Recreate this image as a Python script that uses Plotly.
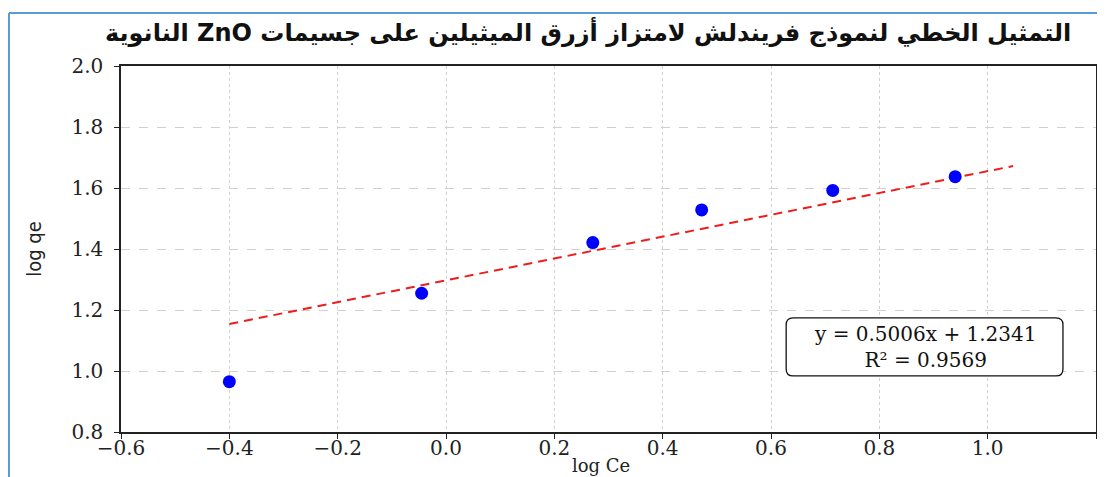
import plotly.graph_objects as go

# Data
log_ce = [-0.40, -0.045, 0.271, 0.472, 0.714, 0.940]
log_qe = [0.965, 1.255, 1.421, 1.528, 1.592, 1.637]
fit_x = [-0.40, 1.047]
fit_y = [1.154, 1.672]
x_ticks = [-0.6, -0.4, -0.2, 0.0, 0.2, 0.4, 0.6, 0.8, 1.0, 1.2]
y_ticks = [0.8, 1.0, 1.2, 1.4, 1.6, 1.8, 2.0]
title_text = "التمثيل الخطي لنموذج فريندلش لامتزاز أزرق الميثيلين على جسيمات ZnO النانوية"
eq_text = "y = 0.5006x + 1.2341<br>R² = 0.9569"
x_title = "log Ce"
y_title = "log qe"

OFF = 8  # page body margin
W, H = 1105 - OFF, 477 - OFF
L, R, T, B = 121 - OFF, 9, 66 - OFF, 45
xr = [-0.6, 1.2]
yr = [0.8, 2.0]
pw, ph = W - L - R, H - T - B
sx = (xr[1] - xr[0]) / pw
sy = (yr[1] - yr[0]) / ph

fig = go.Figure()
fig.add_trace(go.Scatter(x=fit_x, y=fit_y, mode="lines",
                         line=dict(color="#ee1c1c", width=2, dash="9px,6px"),
                         showlegend=False, hoverinfo="skip"))
fig.add_trace(go.Scatter(x=log_ce, y=log_qe, mode="markers",
                         marker=dict(color="#0000ff", size=13, line=dict(width=0)),
                         showlegend=False))

# rounded box for equation (data coords)
bx0, bx1, by0, by1 = 0.628, 1.139, 0.984, 1.174
r = 7
rx, ry = r * sx, r * sy
path = (f"M {bx0+rx},{by0} L {bx1-rx},{by0} Q {bx1},{by0} {bx1},{by0+ry} "
        f"L {bx1},{by1-ry} Q {bx1},{by1} {bx1-rx},{by1} "
        f"L {bx0+rx},{by1} Q {bx0},{by1} {bx0},{by1-ry} "
        f"L {bx0},{by0+ry} Q {bx0},{by0} {bx0+rx},{by0} Z")
fig.add_shape(type="path", path=path, xref="x", yref="y",
              line=dict(color="#111111", width=1.3), fillcolor="white", layer="above")
fig.add_annotation(x=(bx0 + bx1) / 2, y=(by0 + by1) / 2, xref="x", yref="y",
                   text=eq_text, showarrow=False, xanchor="center", yanchor="middle",
                   font=dict(family="DejaVu Serif", size=20, color="#111111"),
                   align="center")

# blue frame (left and top edges)
fx = (9 - OFF - L) / pw
fy = 1 + (T - (13 - OFF)) / ph
fig.add_shape(type="line", xref="paper", yref="paper", x0=fx, x1=fx, y0=-1, y1=fy,
              line=dict(color="#5b9bd5", width=2))
fig.add_shape(type="line", xref="paper", yref="paper", x0=fx, x1=2, y0=fy, y1=fy,
              line=dict(color="#5b9bd5", width=2))

fig.add_annotation(x=(588 - OFF - L) / pw, y=1 + (T - (32 - OFF)) / ph,
                   xref="paper", yref="paper", xanchor="center", yanchor="middle",
                   text="<b>\u202b" + title_text + "\u202c</b>", showarrow=False,
                   font=dict(family="DejaVu Sans", size=24, color="#111111"))

# x axis title
fig.add_annotation(x=(601 - OFF - L) / pw, y=-((465 - OFF) - (H - B)) / ph,
                   xref="paper", yref="paper", xanchor="center", yanchor="middle",
                   text=x_title, showarrow=False, borderpad=0,
                   font=dict(family="DejaVu Serif", size=18, color="#222222"))

axis_common = dict(showline=True, linecolor="#222222", linewidth=1.5, mirror=True,
                   ticks="outside", ticklen=5, tickcolor="#222222",
                   tickfont=dict(family="DejaVu Serif", size=20, color="#222222"),
                   tickformat=".1f", zeroline=False, showgrid=True,
                   gridcolor="#d0d0d0", gridwidth=1, automargin=False)

fig.update_xaxes(range=xr, tickvals=x_ticks, griddash="dot", ticklabelstandoff=-8,
                 **axis_common)
fig.update_yaxes(range=yr, tickvals=y_ticks, griddash="dash", ticklabelstandoff=7,
                 **axis_common,
                 title=dict(text=y_title, standoff=24,
                            font=dict(family="Liberation Sans Narrow, DejaVu Sans Condensed, sans-serif",
                                      size=20, color="#222222")))

fig.update_layout(width=W, height=H, margin=dict(l=L, r=R, t=T, b=B),
                  paper_bgcolor="white", plot_bgcolor="white")
fig.write_html("out.html")
